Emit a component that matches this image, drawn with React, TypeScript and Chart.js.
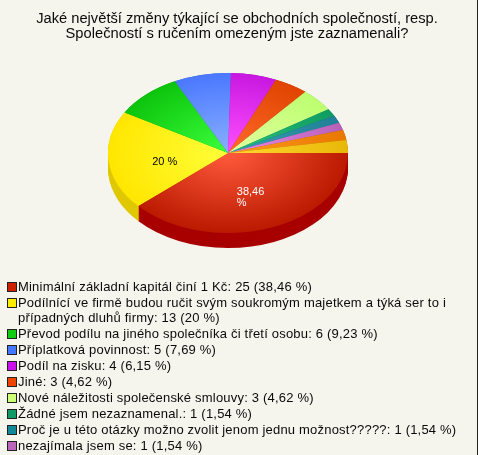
import { useEffect, useRef } from 'react';
import { Chart, registerables } from 'chart.js';

Chart.register(...registerables);

const titleLines = [
  'Jaké největší změny týkající se obchodních společností, resp.',
  'Společností s ručením omezeným jste zaznamenali?',
];

// Legenda je v originále useknutá, poslední dva díly v ní nejsou
const legendLabels = [
  'Minimální základní kapitál činí 1 Kč: 25 (38,46 %)',
  'Podílnící ve firmě budou ručit svým soukromým majetkem a týká ser to i\npřípadných dluhů firmy: 13 (20 %)',
  'Převod podílu na jiného společníka či třetí osobu: 6 (9,23 %)',
  'Příplatková povinnost: 5 (7,69 %)',
  'Podíl na zisku: 4 (6,15 %)',
  'Jiné: 3 (4,62 %)',
  'Nové náležitosti společenské smlouvy: 3 (4,62 %)',
  'Žádné jsem nezaznamenal.: 1 (1,54 %)',
  'Proč je u této otázky možno zvolit jenom jednu možnost?????: 1 (1,54 %)',
  'nezajímala jsem se: 1 (1,54 %)',
];

// poslední dva díly
const values = [25, 13, 6, 5, 4, 3, 3, 1, 1, 1, 1.3, 1.7];

const sliceLabels: (string[] | null)[] = [['38,46', '%'], ['20 %'], null, null, null, null, null, null, null, null, null, null];
const labelColors = ['#ffffff', '#000000'];

const innerColors = ['#ff5a3c', '#ffff3a', '#3cff3c', '#8ab0ff', '#ff50ff', '#ff6a2c', '#e4ffa0', '#2cc080', '#3aa0b0', '#e88ae8', '#ff9a20', '#ffd830'];
const outerColors = ['#bb1a00', '#ffe600', '#0cc40c', '#4a78ff', '#c818e0', '#e04400', '#bcff70', '#0f9c60', '#1f8098', '#b860b8', '#e87800', '#e8b808'];
const sideColors = ['#a80000', '#e0c800', '#0a9a0a', '#3a60c8', '#a010b0', '#b03400', '#98cc58', '#0c7c4c', '#186478', '#904c90', '#b86000', '#b89006'];
const swatchColors = ['#cc2200', '#ffee00', '#11cc11', '#4477ff', '#cc11ee', '#ee4400', '#ccff77', '#119966', '#118899', '#bb66bb'];

const PIE_X = 228;
const PIE_Y = 153;
const SQUASH = 2 / 3;
const DEPTH = 15;

const pie3d = {
  id: 'pie3d',
  beforeDatasetsDraw(chart: any) {
    const { ctx } = chart;
    const arcs = chart.getDatasetMeta(0).data;
    if (!arcs.length) return;
    ctx.save();
    ctx.translate(PIE_X, PIE_Y);
    ctx.scale(1, SQUASH);
    ctx.translate(-arcs[0].x, -arcs[0].y);
    // bok koláče - stejné díly posunuté dolů
    for (let d = DEPTH; d >= 0; d--) {
      arcs.forEach((arc: any, i: number) => {
        ctx.fillStyle = sideColors[i];
        ctx.beginPath();
        ctx.moveTo(arc.x, arc.y + d / SQUASH);
        ctx.arc(arc.x, arc.y + d / SQUASH, arc.outerRadius, arc.startAngle, arc.endAngle);
        ctx.closePath();
        ctx.fill();
      });
    }
  },
  afterDatasetsDraw(chart: any) {
    const { ctx } = chart;
    const arcs = chart.getDatasetMeta(0).data;
    if (!arcs.length) return;
    ctx.restore();
    ctx.save();
    ctx.font = '11px "Liberation Sans"';
    ctx.textAlign = 'left';
    ctx.textBaseline = 'middle';
    arcs.forEach((arc: any, i: number) => {
      const lines = sliceLabels[i];
      if (!lines) return;
      const mid = (arc.startAngle + arc.endAngle) / 2;
      const cx = PIE_X + Math.cos(mid) * arc.outerRadius * 0.53;
      const cy = PIE_Y + Math.sin(mid) * arc.outerRadius * SQUASH * 0.53 + 5;
      const width = ctx.measureText(lines[0]).width;
      ctx.fillStyle = labelColors[i];
      lines.forEach((line: string, n: number) => {
        ctx.fillText(line, cx - width / 2, cy + (n - (lines.length - 1) / 2) * 10.7);
      });
    });
    ctx.restore();
  },
};

export default function App() {
  const canvasRef = useRef<HTMLCanvasElement>(null);

  useEffect(() => {
    document.body.style.margin = '0';
    if (!canvasRef.current) return;

    const chart = new Chart(canvasRef.current, {
      type: 'pie',
      plugins: [pie3d],
      data: {
        labels: values.map((_, i) => legendLabels[i] ?? ''),
        datasets: [
          {
            data: values,
            borderWidth: 0,
            radius: 120,
            backgroundColor: (c: any) => {
              const area = c.chart.chartArea;
              if (!area) return outerColors[c.dataIndex];
              const x = (area.left + area.right) / 2;
              const y = (area.top + area.bottom) / 2;
              const g = c.chart.ctx.createRadialGradient(x, y, 0, x, y, 120);
              g.addColorStop(0, innerColors[c.dataIndex]);
              g.addColorStop(1, outerColors[c.dataIndex]);
              return g;
            },
          },
        ],
      },
      options: {
        responsive: false,
        animation: false,
        rotation: 90,
        plugins: {
          legend: { display: false },
          tooltip: { enabled: false },
          title: {
            display: true,
            text: titleLines,
            color: '#0a0a0a',
            font: { family: '"Liberation Sans"', size: 14.7, weight: 'normal', lineHeight: 15 / 14.7 },
            padding: { top: 11, bottom: 1 },
          },
        },
      },
    });

    return () => chart.destroy();
  }, []);

  return (
    <div style={{ position: 'relative', width: 478, height: 455, boxSizing: 'border-box', background: '#f5f5ee', borderRight: '1px solid #222222', overflow: 'hidden' }}>
      <canvas ref={canvasRef} width={474} height={455} style={{ position: 'absolute', left: 0, top: 0 }} />
      <div style={{ position: 'absolute', left: 7, top: 279, width: 465, font: '13px/15px "Liberation Sans"', letterSpacing: 0.2, color: '#0a0a0a' }}>
        {legendLabels.map((label, i) => (
          <div key={i} style={{ position: 'relative', paddingLeft: 11, marginBottom: 1, whiteSpace: 'pre-line' }}>
            <span style={{ position: 'absolute', left: 0, top: 3, width: 8, height: 8, background: swatchColors[i], border: '1px solid #222222' }} />
            {label}
          </div>
        ))}
      </div>
    </div>
  );
}
